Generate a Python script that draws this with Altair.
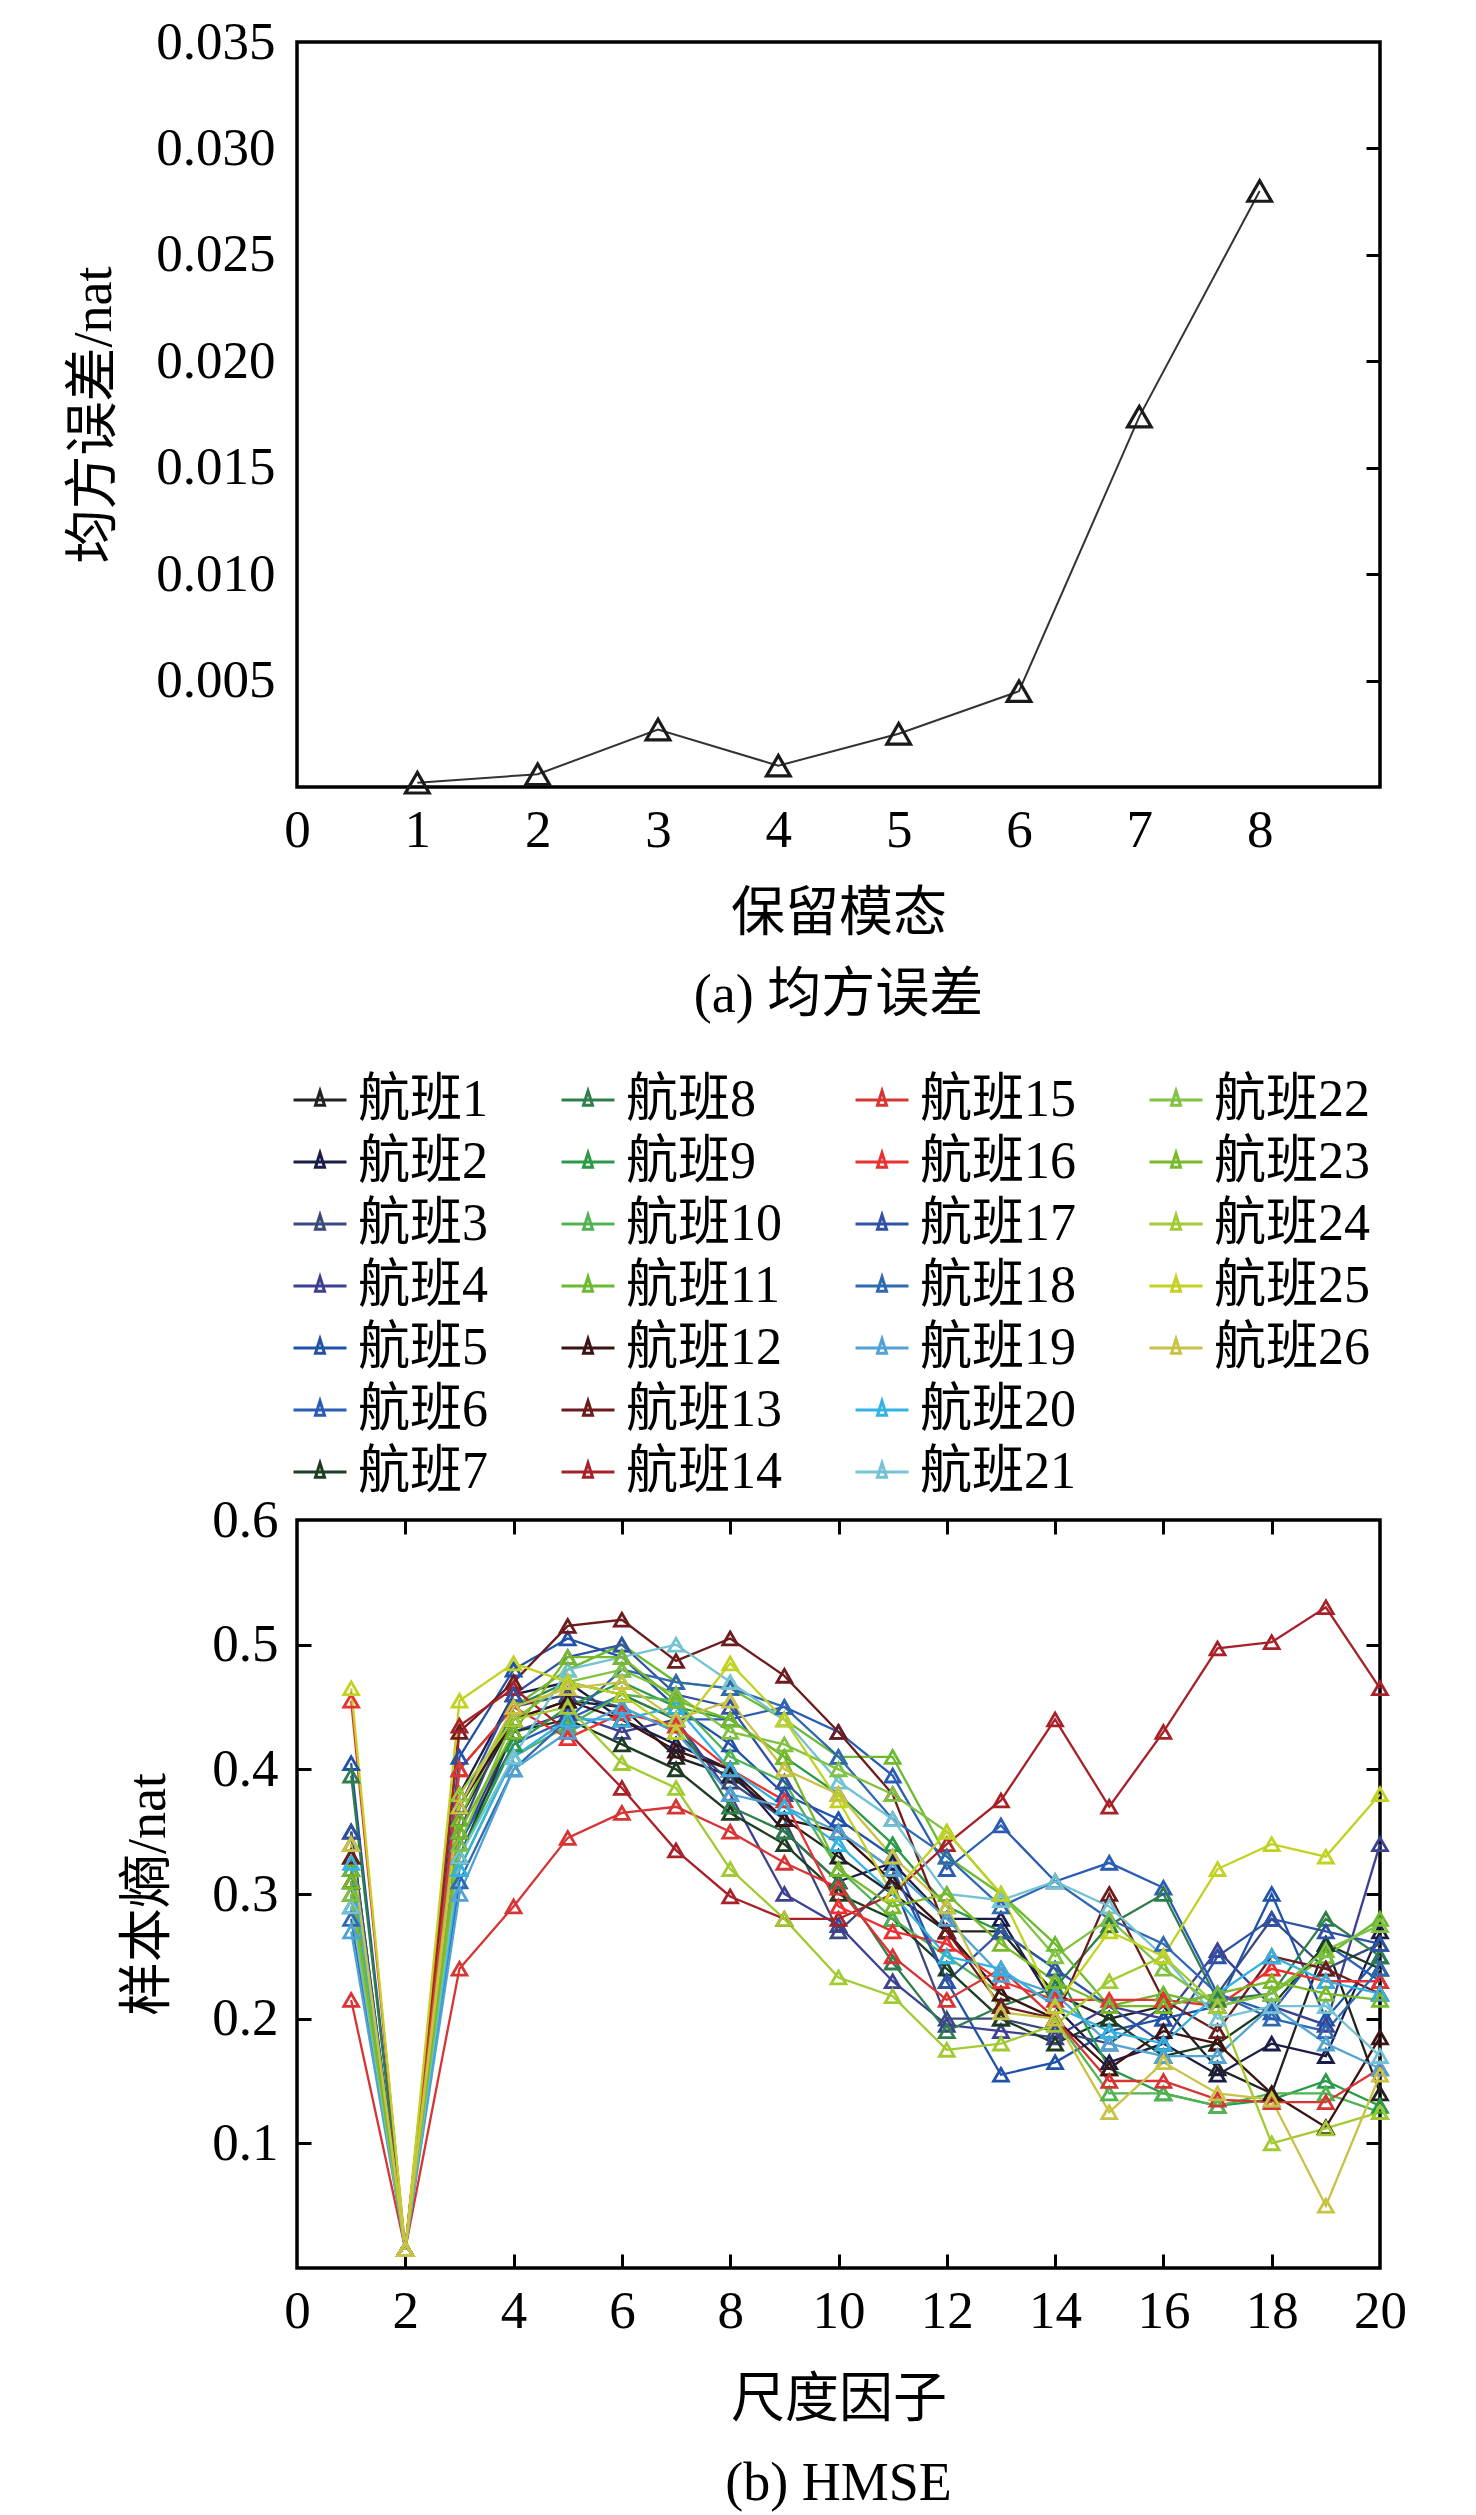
import altair as alt
import pandas as pd

FONT = "Liberation Serif, Noto Sans CJK SC"

# ---------- (a) data ----------
modes = [1, 2, 3, 4, 5, 6, 7, 8]
mse = [0.0002, 0.0006, 0.0027, 0.0010, 0.0025, 0.0045, 0.0174, 0.0280]

# ---------- (b) data ----------
scales = list(range(1, 21))
f01 = [0.33, 0.015, 0.36, 0.44, 0.455, 0.45, 0.41, 0.395, 0.36, 0.33, 0.30, 0.27, 0.27, 0.22, 0.20, 0.21, 0.16, 0.14, 0.26, 0.14]
f02 = [0.35, 0.015, 0.38, 0.46, 0.47, 0.44, 0.42, 0.40, 0.35, 0.31, 0.325, 0.28, 0.28, 0.21, 0.165, 0.18, 0.155, 0.18, 0.17, 0.27]
f03 = [0.34, 0.015, 0.35, 0.45, 0.46, 0.45, 0.43, 0.39, 0.36, 0.27, 0.31, 0.20, 0.20, 0.19, 0.18, 0.21, 0.22, 0.28, 0.24, 0.26]
f04 = [0.30, 0.015, 0.34, 0.43, 0.445, 0.43, 0.44, 0.38, 0.30, 0.275, 0.23, 0.195, 0.19, 0.185, 0.21, 0.20, 0.255, 0.21, 0.195, 0.34]
f05 = [0.405, 0.015, 0.41, 0.48, 0.505, 0.49, 0.45, 0.42, 0.38, 0.36, 0.33, 0.23, 0.155, 0.165, 0.19, 0.20, 0.21, 0.30, 0.20, 0.25]
f06 = [0.29, 0.015, 0.34, 0.42, 0.44, 0.46, 0.44, 0.44, 0.45, 0.43, 0.395, 0.32, 0.355, 0.31, 0.325, 0.305, 0.22, 0.205, 0.26, 0.23]
f07 = [0.32, 0.015, 0.33, 0.43, 0.44, 0.42, 0.40, 0.365, 0.34, 0.30, 0.28, 0.24, 0.20, 0.18, 0.20, 0.17, 0.18, 0.21, 0.26, 0.24]
f08 = [0.395, 0.015, 0.40, 0.45, 0.47, 0.46, 0.44, 0.37, 0.35, 0.31, 0.245, 0.19, 0.21, 0.225, 0.275, 0.30, 0.215, 0.22, 0.28, 0.25]
f09 = [0.31, 0.015, 0.33, 0.42, 0.45, 0.47, 0.45, 0.44, 0.41, 0.38, 0.34, 0.29, 0.27, 0.24, 0.16, 0.14, 0.13, 0.135, 0.15, 0.13]
f10 = [0.30, 0.015, 0.32, 0.41, 0.435, 0.46, 0.455, 0.41, 0.39, 0.32, 0.28, 0.25, 0.22, 0.20, 0.14, 0.14, 0.13, 0.14, 0.14, 0.125]
f11 = [0.32, 0.015, 0.36, 0.45, 0.48, 0.50, 0.47, 0.465, 0.44, 0.41, 0.41, 0.33, 0.30, 0.26, 0.21, 0.22, 0.21, 0.22, 0.25, 0.28]
f12 = [0.31, 0.015, 0.37, 0.44, 0.455, 0.44, 0.415, 0.40, 0.36, 0.35, 0.31, 0.27, 0.22, 0.20, 0.16, 0.19, 0.18, 0.14, 0.113, 0.185]
f13 = [0.33, 0.015, 0.43, 0.47, 0.515, 0.52, 0.487, 0.505, 0.475, 0.43, 0.38, 0.27, 0.21, 0.20, 0.30, 0.215, 0.19, 0.25, 0.24, 0.22]
f14 = [0.34, 0.015, 0.435, 0.465, 0.43, 0.385, 0.335, 0.298, 0.28, 0.28, 0.30, 0.34, 0.375, 0.44, 0.37, 0.43, 0.497, 0.502, 0.53, 0.465]
f15 = [0.215, 0.015, 0.24, 0.29, 0.345, 0.365, 0.37, 0.35, 0.325, 0.305, 0.25, 0.215, 0.24, 0.20, 0.15, 0.15, 0.135, 0.133, 0.133, 0.16]
f16 = [0.455, 0.015, 0.40, 0.45, 0.425, 0.445, 0.435, 0.40, 0.375, 0.29, 0.27, 0.26, 0.23, 0.215, 0.215, 0.215, 0.21, 0.24, 0.23, 0.23]
f17 = [0.35, 0.015, 0.37, 0.46, 0.49, 0.50, 0.46, 0.45, 0.39, 0.35, 0.32, 0.23, 0.27, 0.24, 0.21, 0.18, 0.25, 0.28, 0.27, 0.26]
f18 = [0.28, 0.015, 0.31, 0.40, 0.44, 0.48, 0.47, 0.465, 0.45, 0.41, 0.36, 0.33, 0.29, 0.31, 0.28, 0.26, 0.22, 0.20, 0.19, 0.24]
f19 = [0.27, 0.015, 0.30, 0.40, 0.43, 0.45, 0.43, 0.38, 0.37, 0.35, 0.32, 0.28, 0.235, 0.22, 0.18, 0.17, 0.17, 0.21, 0.18, 0.16]
f20 = [0.325, 0.015, 0.32, 0.41, 0.44, 0.44, 0.45, 0.40, 0.37, 0.34, 0.30, 0.25, 0.24, 0.21, 0.19, 0.18, 0.22, 0.25, 0.23, 0.22]
f21 = [0.29, 0.015, 0.33, 0.41, 0.48, 0.49, 0.50, 0.47, 0.44, 0.39, 0.36, 0.30, 0.295, 0.31, 0.29, 0.25, 0.20, 0.21, 0.21, 0.17]
f22 = [0.30, 0.015, 0.34, 0.44, 0.47, 0.48, 0.46, 0.43, 0.42, 0.40, 0.38, 0.35, 0.30, 0.25, 0.28, 0.24, 0.21, 0.22, 0.255, 0.275]
f23 = [0.31, 0.015, 0.35, 0.43, 0.49, 0.49, 0.455, 0.44, 0.41, 0.32, 0.29, 0.30, 0.26, 0.23, 0.21, 0.21, 0.22, 0.23, 0.22, 0.215]
f24 = [0.34, 0.015, 0.38, 0.44, 0.45, 0.405, 0.385, 0.32, 0.28, 0.233, 0.218, 0.175, 0.18, 0.195, 0.23, 0.25, 0.21, 0.10, 0.112, 0.125]
f25 = [0.465, 0.015, 0.455, 0.485, 0.47, 0.46, 0.43, 0.485, 0.44, 0.375, 0.30, 0.35, 0.30, 0.21, 0.27, 0.25, 0.32, 0.34, 0.33, 0.38]
f26 = [0.34, 0.015, 0.37, 0.45, 0.465, 0.47, 0.44, 0.455, 0.40, 0.38, 0.33, 0.29, 0.205, 0.20, 0.125, 0.165, 0.14, 0.135, 0.05, 0.155]

series = [f01, f02, f03, f04, f05, f06, f07, f08, f09, f10, f11, f12, f13,
          f14, f15, f16, f17, f18, f19, f20, f21, f22, f23, f24, f25, f26]
names = [f"航班{i}" for i in range(1, 27)]
colors = ["#222222", "#1c1c48", "#3a4a7c", "#3c4192", "#2152aa", "#2a5cb4",
          "#1c3d22", "#2f7e4c", "#2a9a48", "#52b352", "#6cba32", "#3c1212",
          "#6c1c1c", "#a82028", "#d83434", "#ea3030", "#3052a4", "#3068b2",
          "#52a2d2", "#34b2e2", "#74c2d2", "#82c242", "#7aba2a", "#a2ca32",
          "#c2d222", "#cac246"]

rows = []
for n, vals in zip(names, series):
    for s, v in zip(scales, vals):
        rows.append({"flight": n, "scale": s, "value": v})
df_b = pd.DataFrame(rows)

# legend grid: 7 rows x 4 columns (column-major); two empty slots at the end
legend_domain = names + ["_blank1", "_blank2"]
legend_range = colors + ["#ffffff", "#ffffff"]

df_a = pd.DataFrame({"m": modes, "mse": mse})

# ---------- chart (a) ----------
ya_vals = [0, 0.005, 0.010, 0.015, 0.020, 0.025, 0.030, 0.035]
x_a = alt.X("m:Q", scale=alt.Scale(domain=[0, 9], nice=False, zero=False),
            axis=alt.Axis(values=list(range(0, 9)), title="保留模态", ticks=False, tickSize=0,
                          domain=False, grid=False, labelPadding=17, titlePadding=30,
                          labelFlush=False))
y_a = alt.Y("mse:Q", scale=alt.Scale(domain=[0, 0.035], nice=False),
            axis=alt.Axis(values=ya_vals, title="均方误差/nat", ticks=False, tickSize=0,
                          domain=False, grid=False, labelPadding=22, titlePadding=34,
                          labelExpr="datum.value == 0 ? '' : format(datum.value, '.3f')",
                          labelFlush=False))
line_a = alt.Chart(df_a).mark_line(color="#333333", strokeWidth=2).encode(x=x_a, y=y_a)
pts_a = alt.Chart(df_a).mark_point(shape="triangle-up", filled=False, color="#1a1a1a",
                                   size=560, strokeWidth=3.2, opacity=1).encode(
    x=alt.X("m:Q", axis=None),
    y=alt.Y("mse:Q", axis=alt.Axis(orient="right", offset=-14, ticks=True, tickSize=14,
                                   tickWidth=3, tickColor="black", labels=False,
                                   domain=False, grid=False, title=None,
                                   values=ya_vals[1:-1])))
top = alt.layer(line_a, pts_a).resolve_axis(x="independent", y="independent").properties(
    width=1083, height=745,
    title=alt.TitleParams("(a) 均方误差", orient="bottom", offset=28, fontSize=54,
                          font=FONT, fontWeight="normal", color="black"))

# ---------- chart (b) ----------
xb_vals = list(range(0, 21, 2))
yb_vals = [0, 0.1, 0.2, 0.3, 0.4, 0.5, 0.6]
color_scale = alt.Scale(domain=legend_domain, range=legend_range)
legend_path = "M-1,0L1,0M0,-0.34L0.17,0.2L-0.17,0.2Z"
x_b = alt.X("scale:Q", scale=alt.Scale(domain=[0, 20], nice=False, zero=False),
            axis=alt.Axis(values=xb_vals, title="尺度因子", ticks=False, tickSize=0,
                          domain=False, grid=False, labelPadding=17, titlePadding=35,
                          labelFlush=False))
y_b = alt.Y("value:Q", scale=alt.Scale(domain=[0, 0.6], nice=False),
            axis=alt.Axis(values=yb_vals, title="样本熵/nat", ticks=False, tickSize=0,
                          domain=False, grid=False, labelPadding=19, titlePadding=36,
                          labelExpr="datum.value == 0 ? '' : format(datum.value, '.1f')",
                          labelFlush=False))
line_b = alt.Chart(df_b).mark_line(strokeWidth=2.3).encode(
    x=x_b, y=y_b,
    color=alt.Color("flight:N", scale=color_scale, sort=legend_domain,
                    legend=alt.Legend(title=None, orient="none", legendX=-5, legendY=-448,
                                      columns=4, symbolType=legend_path, symbolSize=2809,
                                      symbolStrokeWidth=3, labelFontSize=52, labelFont=FONT,
                                      labelColor="black", columnPadding=66, rowPadding=8,
                                      labelOffset=10, labelLimit=0,
                                      labelExpr="indexof(datum.label, '_') === 0 ? '' : datum.label")))
pts_b = alt.Chart(df_b).mark_point(shape="triangle-up", filled=False, size=220,
                                   strokeWidth=2.8, opacity=1).encode(
    x=alt.X("scale:Q", axis=alt.Axis(orient="bottom", offset=-14, ticks=True, tickSize=14,
                                     tickWidth=3, tickColor="black", labels=False, domain=False,
                                     grid=False, title=None, values=xb_vals[1:-1])),
    y=alt.Y("value:Q", axis=alt.Axis(orient="left", offset=-14, ticks=True, tickSize=14,
                                     tickWidth=3, tickColor="black", labels=False, domain=False,
                                     grid=False, title=None, values=yb_vals[1:-1])),
    color=alt.Color("flight:N", scale=color_scale, legend=None))
ticks_b = alt.Chart(df_b).mark_point(opacity=0).encode(
    x=alt.X("scale:Q", axis=alt.Axis(orient="top", offset=-14, ticks=True, tickSize=14,
                                     tickWidth=3, tickColor="black", labels=False, domain=False,
                                     grid=False, title=None, values=xb_vals[1:-1])),
    y=alt.Y("value:Q", axis=alt.Axis(orient="right", offset=-14, ticks=True, tickSize=14,
                                     tickWidth=3, tickColor="black", labels=False, domain=False,
                                     grid=False, title=None, values=yb_vals[1:-1])))
bottom = alt.layer(line_b, pts_b, ticks_b).resolve_axis(x="independent", y="independent").properties(
    width=1083, height=748,
    title=alt.TitleParams("(b) HMSE", orient="bottom", offset=30, fontSize=54,
                          font=FONT, fontWeight="normal", color="black"))

chart = alt.vconcat(top, bottom, spacing=45).resolve_legend(color="independent").properties(
    padding={"left": 58, "top": 6, "right": 5, "bottom": 2}
).configure(
    font=FONT
).configure_view(
    stroke="black", strokeWidth=3.5
).configure_axis(
    labelFont=FONT, titleFont=FONT, labelFontSize=53, titleFontSize=54,
    labelColor="black", titleColor="black", titleFontWeight="normal"
)

chart.save("out.html", embed_options={"renderer": "svg", "actions": False})
